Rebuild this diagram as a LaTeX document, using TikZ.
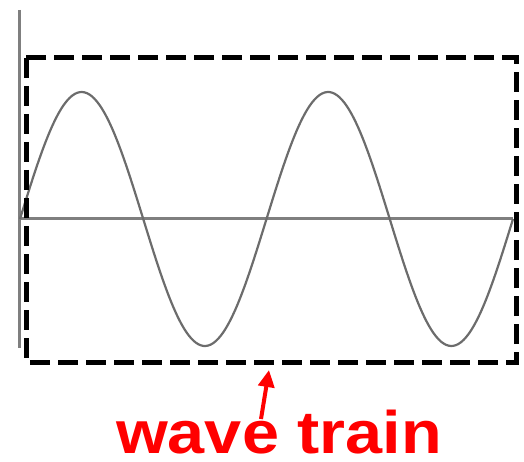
\documentclass[tikz,border=0pt]{standalone}
\usepackage{fontspec}
\setsansfont{Liberation Sans}
\usetikzlibrary{arrows.meta, positioning, calc}
\definecolor{cgrey}{HTML}{7F7F7F}
\definecolor{cred}{HTML}{FF0000}
\tikzset{
  every picture/.style={font=\sffamily, line width=2pt},
  axis/.style={draw=cgrey, line width=3pt},
  wave/.style={draw=cgrey!85!black, line width=2.2pt},
  frame/.style={draw=black, line width=5pt, dash pattern=on 20pt off 8pt},
  arrow/.style={-{Triangle[length=17pt, width=16pt]}, draw=cred, line width=4pt},
  label/.style={font=\sffamily\bfseries\fontsize{60}{60}\selectfont, text=cred, inner sep=0pt, xscale=1.11},
}

\begin{document}
\begin{tikzpicture}[x=1pt, y=-1pt]
  \useasboundingbox (0,0) rectangle (524,462);
  % axes
  \coordinate (o) at (20,219);
  \draw[axis] (19,10) -- (19,348);
  \draw[axis] (o) -- (513,219);
  % two periods of the sine
  \draw[wave] plot[domain=20:513, samples=200, smooth] (\x, {219-127*sin((\x-20)/246.5*360)});
  % the train
  \draw[frame] (26,58) rectangle (516,362);
  \coordinate (tip) at (269,370);
  \node[label, anchor=base] (lab) at (279,453) {wave train};
  \draw[arrow] (261,419) -- (tip);
\end{tikzpicture}
\end{document}
